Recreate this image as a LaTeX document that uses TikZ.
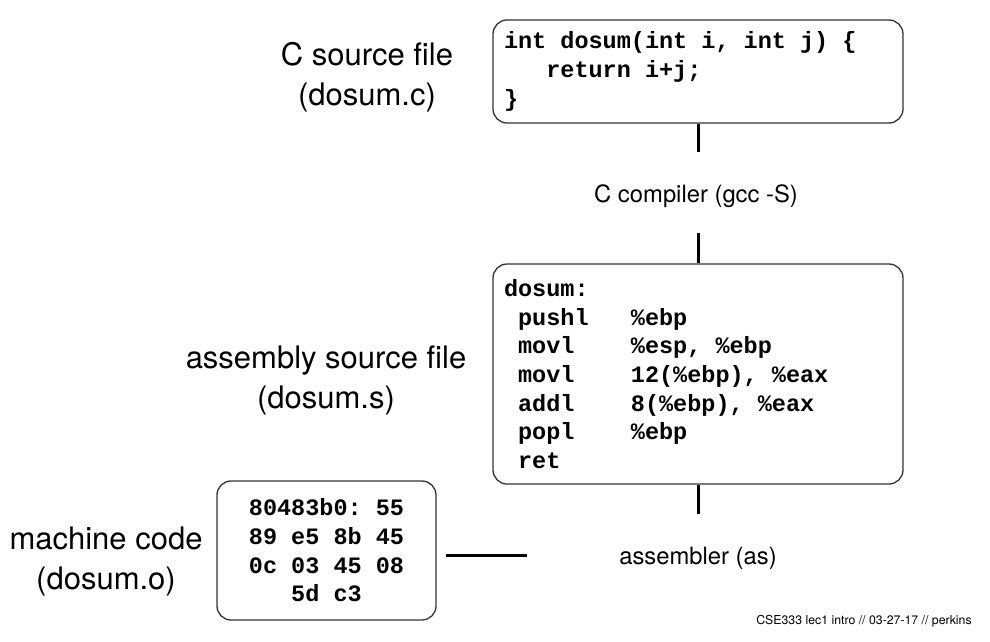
\documentclass[tikz,border=0pt]{standalone}
\usepackage{fontspec}
\setmainfont{TeX Gyre Heros}
\setmonofont{Liberation Mono}
\usepackage{tikz}
\usetikzlibrary{positioning}
\definecolor{lcink}{HTML}{000000}
\definecolor{lcline}{HTML}{333333}
\newcommand{\codefont}{\fontsize{23.5}{28.7}\selectfont\ttfamily\bfseries}
\tikzset{
  codebox/.style={rectangle,rounded corners=14pt,draw=lcline,line width=1.3pt,
                  fill=white,align=left,inner xsep=11pt,
                  font=\codefont,text=lcink},
  caption/.style={align=center,font=\fontsize{31}{40}\selectfont,text=lcink},
  tool/.style={font=\fontsize{23.8}{28}\selectfont,text=lcink},
  link/.style={line width=3pt,draw=lcink},
}
% one fixed-width blank in the code font
\newcommand{\ind}{\phantom{x}}

\begin{document}
\begin{tikzpicture}[x=1pt,y=-1pt]
  \useasboundingbox (0,0) rectangle (990,642);
  % boxes
  \node[codebox,text width=388pt,minimum height=103pt] (src) at (698,71.5)
    {int\ind dosum(int\ind i,\ind int\ind j)\ind\{\\
     \ind\ind\ind return\ind i+j;\\
     \}};
  \node[codebox,text width=388pt,minimum height=220pt] (asm) at (698,374)
    {dosum:\\
     \ind pushl\ind\ind\ind\%ebp\\
     \ind movl\ind\ind\ind\ind\%esp,\ind\%ebp\\
     \ind movl\ind\ind\ind\ind 12(\%ebp),\ind\%eax\\
     \ind addl\ind\ind\ind\ind 8(\%ebp),\ind\%eax\\
     \ind popl\ind\ind\ind\ind\%ebp\\
     \ind ret};
  \node[codebox,align=center,text width=197pt,minimum height=139pt] (mach) at (326.5,550.5)
    {80483b0:\ind 55\\89\ind e5\ind 8b\ind 45\\0c\ind 03\ind 45\ind 08\\5d\ind c3};
  % labels
  \node[caption] (srclabel) at (367,77) {C source file\\(dosum.c)};
  \node[caption] (asmlabel) at (326,380) {assembly source file\\(dosum.s)};
  \node[caption] (machlabel) at (106,561) {machine code\\(dosum.o)};
  \node[tool] (cc) at (696,196) {C compiler (gcc -S)};
  \node[tool] (as) at (698,558) {assembler (as)};
  \node[font=\fontsize{12.3}{14}\selectfont] (foot) at (864,621) {CSE333 lec1 intro // 03-27-17 // perkins};
  % connectors
  \coordinate[below=28pt of src.south] (ccin);
  \coordinate[above=30pt of asm.north] (ccout);
  \coordinate[below=29pt of asm.south] (asout);
  \coordinate (machout) at (446,555);
  \coordinate (asin) at (527,555);
  \draw[link] (src.south) -- (ccin);
  \draw[link] (ccout) -- (asm.north);
  \draw[link] (asm.south) -- (asout);
  \draw[link] (machout) -- (asin);
\end{tikzpicture}
\end{document}
